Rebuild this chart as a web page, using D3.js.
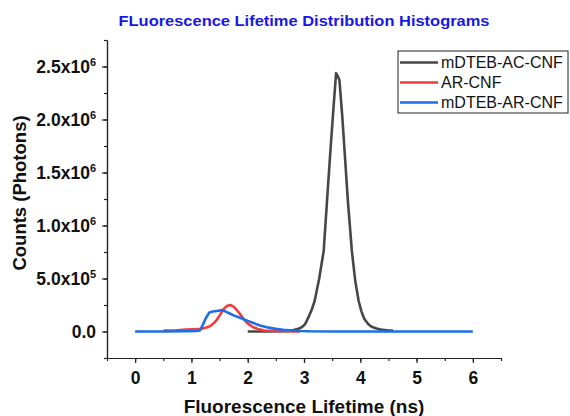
<!DOCTYPE html>
<html>
<head>
<meta charset="utf-8">
<script src="https://cdn.jsdelivr.net/npm/d3@7"></script>
<style>
  body { margin: 0; background: #fff; }
  svg { display: block; font-family: Arial, "Liberation Sans", sans-serif; }
</style>
</head>
<body>
<svg id="chart" width="570" height="416"></svg>
<script>
// lifetime (ns) / counts
const acLifetime = [2.0, 2.2, 2.4, 2.6, 2.7, 2.8, 2.9, 2.96, 3.02, 3.08, 3.14, 3.19, 3.27, 3.35, 3.41, 3.47, 3.52, 3.57, 3.6, 3.63, 3.68, 3.72, 3.78, 3.85, 3.91, 3.97, 4.02, 4.07, 4.14, 4.2, 4.29, 4.4, 4.5, 4.58]
const acCounts = [0, 0, 1000, 3000, 6000, 12000, 25000, 40000, 70000, 135000, 210000, 290000, 500000, 760000, 1240000, 1710000, 2080000, 2437000, 2410000, 2370000, 2030000, 1710000, 1230000, 760000, 480000, 290000, 190000, 120000, 70000, 45000, 28000, 15000, 10000, 8000]

const arLifetime = [0.5, 0.7, 0.9, 1.05, 1.15, 1.25, 1.33, 1.4, 1.45, 1.5, 1.57, 1.63, 1.69, 1.75, 1.81, 1.87, 1.92, 1.98, 2.04, 2.1, 2.2, 2.3, 2.45, 2.6, 2.8, 2.93]
const arCounts = [8000, 10000, 18000, 20000, 22000, 35000, 50000, 80000, 110000, 150000, 210000, 240000, 250000, 235000, 200000, 160000, 120000, 85000, 60000, 40000, 20000, 10000, 6000, 3000, 1500, 1000]

const acArLifetime = [0, 0.5, 0.9, 1.1, 1.15, 1.2, 1.26, 1.32, 1.38, 1.45, 1.54, 1.6, 1.68, 1.75, 1.85, 1.92, 2.0, 2.1, 2.22, 2.34, 2.5, 2.63, 2.8, 2.93, 3.1, 3.5, 4.5, 6]
const acArCounts = [0, 0, 3000, 5000, 10000, 60000, 130000, 180000, 188000, 193000, 200000, 190000, 170000, 152000, 132000, 118000, 100000, 80000, 57000, 40000, 25000, 16000, 9000, 5000, 2000, 0, 0, 0]

const seriesNames = ["mDTEB-AC-CNF", "AR-CNF", "mDTEB-AR-CNF"]
const seriesColors = ["#474747", "#f03c3c", "#1e6ee6"]

const xTicks = [0, 1, 2, 3, 4, 5, 6]
const yTicks = [0, 500000, 1000000, 1500000, 2000000, 2500000]

const svg = d3.select("#chart")

const x = d3.scaleLinear().domain([-0.5, 6.5]).range([107, 501])
const y = d3.scaleLinear().domain([-250000, 2750000]).range([358, 40])

// title
svg.append("text")
    .attr("x", 304).attr("y", 26)
    .attr("text-anchor", "middle")
    .attr("textLength", 371).attr("lengthAdjust", "spacingAndGlyphs")
    .style("font-size", "15px").style("font-weight", "bold")
    .style("fill", "#1818e6")
    .text("FLuorescence Lifetime Distribution Histograms")

// x axis, minor ticks then major
svg.append("g")
    .attr("transform", "translate(0,358)")
    .call(d3.axisBottom(x).tickValues(d3.range(-0.5, 6.51, 0.5)).tickSize(3).tickFormat("").tickSizeOuter(0))
svg.append("g")
    .attr("transform", "translate(0,358)")
    .call(d3.axisBottom(x).tickValues(xTicks).tickFormat(d3.format("d")).tickSize(5).tickPadding(9).tickSizeOuter(0))
    .selectAll("text")
    .style("font-size", "17.5px").style("font-weight", "bold").style("fill", "#111")

// y axis
svg.append("g")
    .attr("transform", "translate(107,0)")
    .call(d3.axisLeft(y).tickValues(d3.range(-250000, 2750001, 250000)).tickSize(3).tickFormat("").tickSizeOuter(0))
const yAxis = svg.append("g")
    .attr("transform", "translate(107,0)")
    .call(d3.axisLeft(y).tickValues(yTicks).tickSize(5).tickPadding(6).tickSizeOuter(0))

// labels as mantissa x 10^exp, exponent raised
yAxis.selectAll(".tick text")
    .style("font-size", "17.5px").style("font-weight", "bold").style("fill", "#111")
    .text(null)
    .each(function (d) {
        const t = d3.select(this)
        if (d === 0) { t.text("0.0"); return }
        const exp = Math.floor(Math.log10(d))
        t.append("tspan").text((d / Math.pow(10, exp)).toFixed(1) + "x10")
        t.append("tspan").attr("dy", -7).style("font-size", "11px").text(exp)
    })

svg.selectAll(".domain, .tick line").attr("stroke", "#222").attr("stroke-width", 1.2)

// axis titles
svg.append("text")
    .attr("x", 304).attr("y", 413)
    .attr("text-anchor", "middle")
    .style("font-size", "19px").style("font-weight", "bold").style("fill", "#111")
    .text("Fluorescence Lifetime (ns)")
svg.append("text")
    .attr("transform", "translate(26,193) rotate(-90)")
    .attr("text-anchor", "middle")
    .style("font-size", "18.5px").style("font-weight", "bold").style("fill", "#111")
    .text("Counts (Photons)")

// curves
const line = d3.line().x(d => x(d[0])).y(d => y(d[1]))
const series = [
    d3.zip(acLifetime, acCounts),
    d3.zip(arLifetime, arCounts),
    d3.zip(acArLifetime, acArCounts)
]
svg.selectAll(".curve")
    .data(series)
    .enter()
    .append("path")
    .attr("class", "curve")
    .attr("d", line)
    .attr("fill", "none")
    .attr("stroke", (d, i) => seriesColors[i])
    .attr("stroke-width", 2.6)
    .attr("stroke-linejoin", "round")

// legend
const legend = svg.append("g").attr("transform", "translate(398,51)")
legend.append("rect")
    .attr("width", 170).attr("height", 62)
    .attr("fill", "#fff").attr("stroke", "#222").attr("stroke-width", 1)
seriesNames.forEach(function (name, i) {
    const row = legend.append("g").attr("transform", "translate(0," + (11.5 + i * 20) + ")")
    row.append("line")
        .attr("x1", 2).attr("x2", 40)
        .attr("stroke", seriesColors[i]).attr("stroke-width", 2.6)
    row.append("text")
        .attr("x", 43).attr("y", 5.5)
        .style("font-size", "16px").style("fill", "#111")
        .text(name)
})
</script>
</body>
</html>
